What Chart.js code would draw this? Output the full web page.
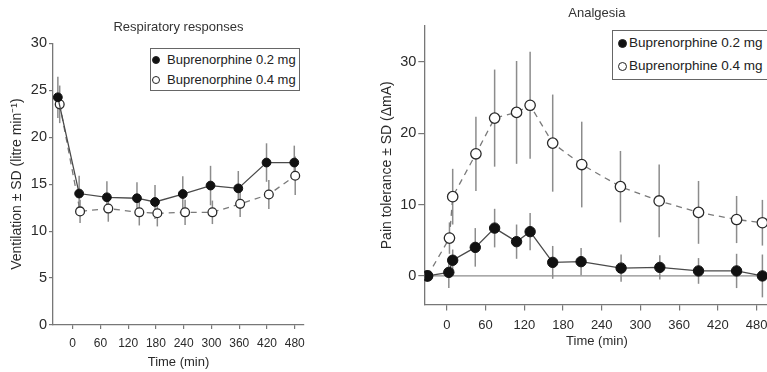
<!DOCTYPE html>
<html>
<head>
<meta charset="utf-8">
<script src="https://cdn.jsdelivr.net/npm/chart.js@4.4.1/dist/chart.umd.min.js"></script>
<style>
html, body { margin: 0; padding: 0; background: #fff; width: 767px; height: 372px; overflow: hidden; }
#wrap { position: relative; width: 767px; height: 372px; overflow: hidden; font-family: "Liberation Sans", Arial, sans-serif; color: #222; }
#respCanvas { position: absolute; left: 0; top: 0; }
#painCanvas { position: absolute; left: 376px; top: 0; }
.legend { position: absolute; box-sizing: border-box; border: 1px solid #666; background: #fff; }
.legend .row { position: absolute; left: 0; height: 16px; line-height: 16px; white-space: nowrap; }
.legend .dot { position: absolute; box-sizing: border-box; border-radius: 50%; border: 1.3px solid #222; }
.legend .dot.filled { background: #111; }
.legend .dot.open { background: #fff; }
.legend .lbl { position: absolute; top: 0; color: #222; }
</style>
</head>
<body>
<div id="wrap">
  <canvas id="respCanvas" width="376" height="372"></canvas>
  <canvas id="painCanvas" width="400" height="372"></canvas>
  <div class="legend" id="respLegend" style="left:150px;top:48px;width:150px;height:43px;font-size:13px;"></div>
  <div class="legend" id="painLegend" style="left:612px;top:30px;width:170px;height:50px;font-size:13.5px;"></div>
</div>
<script>
// Respiratory responses (left panel)
const respTime02 = [-32, 14, 74, 139, 178, 238, 298, 358, 419, 479];
const resp02     = [24.25, 14.0, 13.6, 13.5, 13.1, 13.95, 14.85, 14.55, 17.3, 17.3];
const resp02Sd   = [2.2, 1.9, 1.7, 1.7, 1.8, 1.9, 2.1, 1.85, 2.05, 1.8];
const respTime04 = [-28, 16, 77, 144, 183, 243, 302, 362, 424, 481];
const resp04     = [23.5, 12.1, 12.4, 12.0, 11.9, 12.0, 12.0, 12.9, 13.9, 15.9];
const resp04Sd   = [2.0, 1.25, 1.4, 1.4, 1.4, 1.35, 1.25, 1.4, 1.55, 2.05];
const respTicksX = [0, 60, 120, 180, 240, 300, 360, 420, 480];
const respTicksY = [0, 5, 10, 15, 20, 25, 30];

// Analgesia (right panel)
const painTime02 = [-30, 3, 9, 44, 74, 108, 129, 164, 208, 270, 330, 390, 449, 489];
const pain02     = [0, 0.5, 2.2, 4.0, 6.7, 4.8, 6.2, 1.9, 2.0, 1.1, 1.2, 0.7, 0.7, 0];
const pain02Sd   = [0, 2.2, 1.5, 2.7, 2.7, 2.4, 2.6, 2.3, 1.9, 1.9, 1.7, 1.8, 2.4, 3.0];
const painTime04 = [-30, 4, 9, 45, 74, 108, 129, 164, 209, 269, 329, 390, 449, 489];
const pain04     = [0, 5.3, 11.1, 17.1, 22.1, 22.9, 23.9, 18.6, 15.6, 12.5, 10.5, 8.9, 7.9, 7.45];
const pain04Sd   = [0, 2.2, 3.9, 5.2, 6.8, 7.2, 7.5, 6.8, 6.0, 5.0, 5.1, 4.4, 3.3, 3.2];
const painTicksX = [0, 60, 120, 180, 240, 300, 360, 420, 480];
const painTicksY = [0, 10, 20, 30];

const seriesLabels = ["Buprenorphine 0.2 mg", "Buprenorphine 0.4 mg"];

Chart.defaults.font.family = '"Liberation Sans", Arial, sans-serif';
Chart.defaults.color = "#2a2a2a";

const toPoints = (xs, ys) => xs.map((x, i) => ({ x: x, y: ys[i] }));

// vertical SD bars, drawn under the lines and markers
const errorBars = {
    id: "errorBars",
    beforeDatasetsDraw(chart) {
        const { ctx, scales: { x, y } } = chart;
        ctx.save();
        ctx.strokeStyle = "#8c8c8c";
        ctx.lineWidth = 1.5;
        chart.data.datasets.forEach(ds => {
            if (!ds.sd) return;
            ds.data.forEach((p, i) => {
                const s = ds.sd[i];
                if (!s) return;
                const px = x.getPixelForValue(p.x);
                ctx.beginPath();
                ctx.moveTo(px, y.getPixelForValue(p.y - s));
                ctx.lineTo(px, y.getPixelForValue(p.y + s));
                ctx.stroke();
            });
        });
        ctx.restore();
    }
};

// baseline at 0 for the analgesia panel
const zeroLine = {
    id: "zeroLine",
    beforeDatasetsDraw(chart, args, opts) {
        if (!opts.show) return;
        const { ctx, chartArea, scales: { y } } = chart;
        const py = y.getPixelForValue(0);
        ctx.save();
        ctx.strokeStyle = "#8c8c8c";
        ctx.lineWidth = 1.3;
        ctx.beginPath();
        ctx.moveTo(chartArea.left, py);
        ctx.lineTo(chartArea.right, py);
        ctx.stroke();
        ctx.restore();
    }
};

function makeDatasets(t02, v02, sd02, t04, v04, sd04, r) {
    return [
        {
            label: seriesLabels[0],
            data: toPoints(t02, v02),
            sd: sd02,
            borderColor: "#4a4a4a",
            borderWidth: 1.3,
            pointRadius: r,
            pointBackgroundColor: "#111",
            pointBorderColor: "#111",
            pointBorderWidth: 1,
            order: 0
        },
        {
            label: seriesLabels[1],
            data: toPoints(t04, v04),
            sd: sd04,
            borderColor: "#7a7a7a",
            borderWidth: 1.3,
            borderDash: [6, 5],
            pointRadius: r,
            pointBackgroundColor: "#fff",
            pointBorderColor: "#2a2a2a",
            pointBorderWidth: 1.3,
            order: 1
        }
    ];
}

function axisGrid(len) {
    return { drawOnChartArea: false, drawTicks: true, tickLength: len, tickColor: "#777", lineWidth: 1.2 };
}

function makeChart(canvasId, cfg) {
    return new Chart(document.getElementById(canvasId), {
        type: "line",
        data: { datasets: cfg.datasets },
        options: {
            responsive: false,
            animation: false,
            events: [],
            layout: { padding: { left: 0, right: cfg.padRight, top: 0, bottom: 0 } },
            plugins: {
                legend: { display: false },
                tooltip: { enabled: false },
                zeroLine: { show: cfg.zero },
                title: {
                    display: true,
                    text: cfg.title,
                    fullSize: false,
                    color: "#333",
                    font: { size: 13, weight: "normal" },
                    padding: cfg.titlePad
                }
            },
            scales: {
                x: {
                    type: "linear",
                    min: cfg.xMin,
                    max: cfg.xMax,
                    afterBuildTicks: s => { s.ticks = cfg.xTicks.map(v => ({ value: v })); },
                    afterFit: s => { s.height = cfg.xHeight; },
                    border: { color: "#777", width: 1.3 },
                    grid: axisGrid(cfg.xTickLen),
                    ticks: { font: { size: cfg.xTickFont }, padding: cfg.xTickPad, maxRotation: 0, autoSkip: false },
                    title: { display: true, text: "Time (min)", font: { size: 13 }, padding: { top: 0, bottom: cfg.xTitlePad } }
                },
                y: {
                    type: "linear",
                    min: cfg.yMin,
                    max: cfg.yMax,
                    afterBuildTicks: s => { s.ticks = cfg.yTicks.map(v => ({ value: v })); },
                    afterFit: s => { s.width = cfg.yWidth; },
                    border: { color: "#777", width: 1.3 },
                    grid: axisGrid(cfg.yTickLen),
                    ticks: { font: { size: cfg.yTickFont }, padding: 2 },
                    title: { display: true, text: cfg.yTitle, font: { size: 14 }, padding: { top: cfg.yTitlePad, bottom: 0 } }
                }
            }
        },
        plugins: [zeroLine, errorBars]
    });
}

makeChart("respCanvas", {
    datasets: makeDatasets(respTime02, resp02, resp02Sd, respTime04, resp04, resp04Sd, 4.4),
    title: "Respiratory responses",
    titlePad: { top: 19.7, bottom: 8 },
    padRight: 72,
    xMin: -42.5, xMax: 500, xTicks: respTicksX, xHeight: 47, xTickLen: 4, xTickFont: 12, xTickPad: 7, xTitlePad: 1.5,
    yMin: 0, yMax: 30, yTicks: respTicksY, yWidth: 53, yTickLen: 4, yTickFont: 14.5,
    yTitle: "Ventilation ± SD (litre min⁻¹)", yTitlePad: 9,
    zero: false
});

makeChart("painCanvas", {
    datasets: makeDatasets(painTime02, pain02, pain02Sd, painTime04, pain04, pain04Sd, 5.2),
    title: "Analgesia",
    titlePad: { top: 5.5, bottom: 4.9 },
    padRight: 6.2,
    xMin: -35, xMax: 500, xTicks: painTicksX, xHeight: 67.5, xTickLen: 6, xTickFont: 13, xTickPad: 7, xTitlePad: 22.5,
    yMin: -4, yMax: 35, yTicks: painTicksY, yWidth: 48.3, yTickLen: 6, yTickFont: 14.5,
    yTitle: "Pain tolerance ± SD (ΔmA)", yTitlePad: 3,
    zero: true
});

// Legends as boxed HTML, like the figure
function buildLegend(id, rowsY, dotX, r, textX) {
    const box = document.getElementById(id);
    seriesLabels.forEach((label, i) => {
        const row = document.createElement("div");
        row.className = "row";
        row.style.top = (rowsY[i] - 8) + "px";
        row.style.width = "100%";
        const dot = document.createElement("span");
        dot.className = "dot " + (i === 0 ? "filled" : "open");
        dot.style.left = (dotX - r) + "px";
        dot.style.top = (8 - r) + "px";
        dot.style.width = (2 * r) + "px";
        dot.style.height = (2 * r) + "px";
        const txt = document.createElement("span");
        txt.className = "lbl";
        txt.style.left = textX + "px";
        txt.innerText = label;
        row.appendChild(dot);
        row.appendChild(txt);
        box.appendChild(row);
    });
}

buildLegend("respLegend", [11, 31], 5, 4, 16);
buildLegend("painLegend", [12, 35], 9, 4.5, 16);
</script>
</body>
</html>
